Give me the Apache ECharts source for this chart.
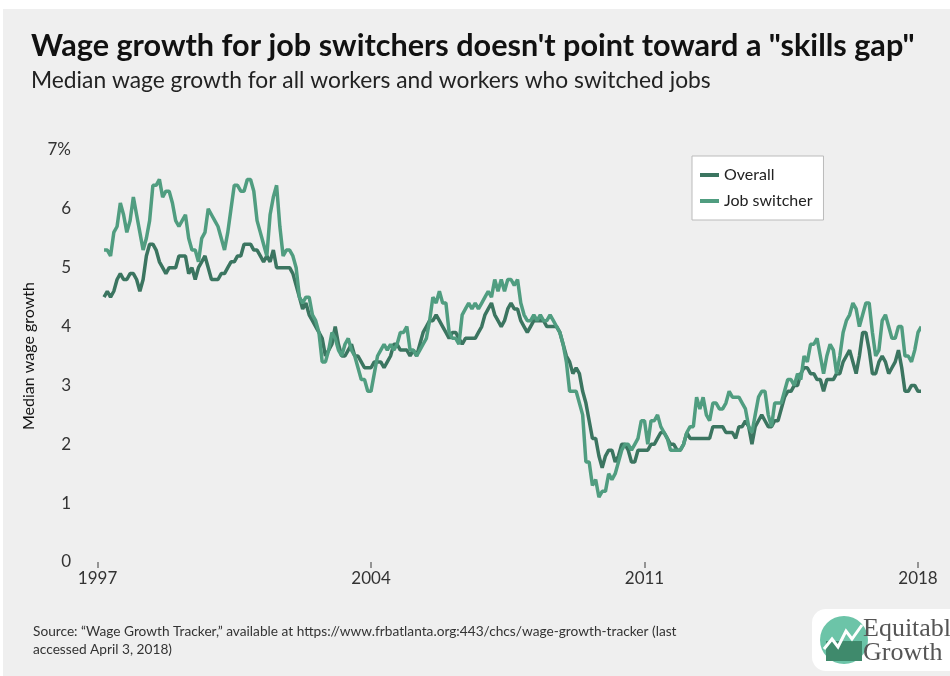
<!DOCTYPE html>
<html>
<head>
<meta charset="utf-8">
<script src="https://cdn.jsdelivr.net/npm/echarts@6/dist/echarts.min.js"></script>
<style>
  html, body { margin: 0; padding: 0; background: #fff; }
  #chart { position: absolute; left: 3px; top: 9px; width: 947px; height: 667px; }
</style>
</head>
<body>
<div id="chart"></div>
<script>
// monthly series, first value is March 1997
const startYear = 1997
const startMonth = 3

const overall = [
  4.5, 4.6, 4.5, 4.6, 4.8, 4.9, 4.8, 4.8, 4.9, 4.9, 4.8, 4.6, 4.8, 5.2, 5.4, 5.4, 5.3, 5.1, 5.0, 4.9,
  5.0, 5.0, 5.0, 5.2, 5.2, 5.2, 4.9, 5.0, 4.8, 5.0, 5.1, 5.2, 5.0, 4.8, 4.8, 4.8, 4.9, 4.9, 5.0, 5.1,
  5.1, 5.2, 5.2, 5.4, 5.4, 5.4, 5.3, 5.3, 5.2, 5.1, 5.2, 5.1, 5.3, 5.0, 5.0, 5.0, 5.0,
  5.0, 4.9, 4.7, 4.5, 4.3, 4.4, 4.2, 4.1, 4.0, 3.9, 3.8, 3.5, 3.6, 3.7, 4.0, 3.7, 3.5, 3.5, 3.6, 3.7,
  3.5, 3.5, 3.4, 3.3, 3.3, 3.3, 3.4, 3.4, 3.4, 3.3, 3.4, 3.5, 3.7, 3.7, 3.6, 3.6, 3.6, 3.5, 3.6, 3.5,
  3.7, 3.9, 4.0, 4.1, 4.1, 4.2, 4.1, 4.0, 3.9, 3.8, 3.9, 3.9, 3.8, 3.7, 3.8, 3.8,
  3.8, 3.8, 3.9, 4.0, 4.2, 4.3, 4.4, 4.2, 4.1, 4.0, 4.1, 4.3, 4.4, 4.3, 4.3, 4.1, 4.0, 3.9, 4.0, 4.1,
  4.1, 4.1, 4.1, 4.0,
  4.0, 4.0, 4.0, 3.9, 3.7, 3.5, 3.4, 3.2, 3.3, 3.2, 2.9, 2.7, 2.4, 2.1, 2.1, 1.8, 1.6, 1.8, 1.9, 1.9,
  1.7, 1.8, 2.0, 2.0, 1.9, 1.7, 1.7, 1.9, 1.9, 1.9, 1.9, 2.0, 2.0, 2.1, 2.2, 2.2, 2.1, 2.0, 2.0, 1.9,
  1.9, 2.0, 2.2, 2.1, 2.1, 2.1, 2.1, 2.1, 2.1, 2.1,
  2.3, 2.3, 2.3, 2.3, 2.2, 2.2, 2.2, 2.1, 2.3, 2.3, 2.4, 2.3, 2.0, 2.3, 2.4, 2.5, 2.4, 2.3, 2.3, 2.4,
  2.4, 2.6, 2.8, 2.9, 2.9, 3.0, 3.0, 3.2, 3.3, 3.3, 3.2, 3.2, 3.1, 3.1, 2.9, 3.1, 3.1, 3.1, 3.2, 3.2,
  3.4, 3.5, 3.6, 3.4, 3.2, 3.5, 3.9, 3.9, 3.6, 3.2, 3.2, 3.4, 3.5, 3.4, 3.2, 3.3, 3.4, 3.6, 3.3, 2.9,
  2.9, 3.0, 3.0, 2.9, 2.9
]

const switcher = [
  5.3, 5.3, 5.2, 5.6, 5.7, 6.1, 5.9, 5.6, 5.8, 6.2, 5.9, 5.6, 5.3, 5.5, 5.8, 6.4, 6.4, 6.5, 6.2, 6.3,
  6.3, 6.1, 5.8, 5.7, 5.8, 5.9, 5.5, 5.3, 5.3, 5.1, 5.5, 5.6, 6.0, 5.9, 5.8, 5.7, 5.5, 5.3, 5.6, 6.0,
  6.4, 6.4, 6.3, 6.3, 6.5, 6.5, 6.3, 5.8, 5.6, 5.4, 5.2, 5.9, 6.2, 6.4, 5.7, 5.2, 5.3,
  5.3, 5.2, 5.0, 4.5, 4.4, 4.5, 4.5, 4.2, 4.1, 3.9,
  3.4, 3.4, 3.6, 3.9, 3.8, 3.6, 3.5, 3.7, 3.8, 3.6, 3.5, 3.3, 3.1, 3.1, 2.9, 2.9, 3.2, 3.5, 3.6, 3.7,
  3.6, 3.7, 3.6, 3.7, 3.9, 3.9, 4.0, 3.6, 3.6, 3.5, 3.6, 3.7, 3.8, 4.1, 4.5, 4.4, 4.6, 4.4, 4.4, 3.9,
  3.8, 3.8, 3.7, 4.2, 4.3, 4.4, 4.3, 4.4, 4.3, 4.4, 4.5, 4.6, 4.5, 4.8, 4.6, 4.8, 4.6, 4.8, 4.8, 4.7,
  4.8, 4.4, 4.2, 4.1, 4.1, 4.2, 4.1, 4.2, 4.1, 4.1, 4.2,
  4.1, 4.0, 3.9, 3.7, 3.4, 2.9, 2.9, 2.9, 2.7, 2.5, 1.7, 1.7, 1.3, 1.4, 1.1, 1.2, 1.2, 1.5, 1.4, 1.5,
  1.7, 1.9, 2.0, 2.0, 1.9, 2.0, 2.1, 2.4, 2.4, 2.0, 2.4, 2.4, 2.5, 2.3, 2.2, 2.1, 1.9, 1.9, 1.9, 1.9,
  2.0, 2.2, 2.3, 2.3, 2.8, 2.6, 2.8, 2.5, 2.4, 2.7,
  2.7, 2.6, 2.6, 2.7, 2.9, 2.8, 2.8, 2.8, 2.7, 2.6, 2.3, 2.2, 2.5, 2.8, 2.9, 2.9, 2.5, 2.3, 2.7, 2.7,
  2.7, 2.9, 3.1, 3.1, 3.0, 3.2, 3.1, 3.5, 3.4, 3.7, 3.7, 3.8, 3.5, 3.2, 3.5, 3.7, 3.6, 3.2, 3.5, 3.9,
  4.1, 4.2, 4.4, 4.3, 4.0, 4.2, 4.4, 4.4, 3.9, 3.5, 3.6, 4.1, 4.2, 4.0, 3.8, 3.8, 4.0, 4.0, 3.5, 3.5,
  3.4, 3.6, 3.9, 4.0
]

const yearTicks = [1997, 2004, 2011, 2018]

const toPoints = values => values.map((v, i) => [startYear + (startMonth - 1 + i) / 12, v])

const chart = echarts.init(document.getElementById('chart'))
const font = 'Lato, "Noto Sans", sans-serif'

const option = {
  backgroundColor: '#efefef',
  animation: false,
  textStyle: { fontFamily: font },
  title: {
    left: 23,
    top: 17,
    text: 'Wage growth for job switchers doesn\'t point toward a "skills gap"',
    subtext: 'Median wage growth for all workers and workers who switched jobs',
    itemGap: 7,
    textStyle: { fontFamily: font, fontSize: 30.6, fontWeight: 'bold', color: '#111' },
    subtextStyle: { fontFamily: font, fontSize: 22.8, color: '#222' }
  },
  legend: {
    orient: 'vertical',
    left: 689,
    top: 147,
    backgroundColor: '#fff',
    borderColor: '#bbb',
    borderWidth: 1,
    padding: [11, 11, 11, 8],
    itemGap: 10,
    itemWidth: 19,
    itemHeight: 4,
    icon: 'rect',
    textStyle: { fontSize: 16, color: '#222' },
    data: ['Overall', 'Job switcher']
  },
  grid: { left: 75, right: 32, top: 141, bottom: 114 },
  xAxis: {
    type: 'value',
    min: 1996.5,
    max: 2018,
    axisLine: { show: false },
    axisTick: { show: true, customValues: yearTicks, length: 6, lineStyle: { color: '#777', width: 1.5 } },
    axisLabel: { customValues: yearTicks, fontSize: 17, color: '#333', margin: 8, formatter: v => String(v) },
    splitLine: { show: false }
  },
  yAxis: {
    type: 'value',
    min: 0,
    max: 7,
    interval: 1,
    name: 'Median wage growth',
    nameLocation: 'middle',
    nameRotate: 90,
    nameGap: 37,
    nameTextStyle: { fontSize: 16, color: '#111' },
    axisLine: { show: false },
    axisTick: { show: false },
    axisLabel: {
      fontSize: 17,
      color: '#333',
      margin: 7,
      formatter: v => (v === 7 ? '7%' : String(v))
    },
    splitLine: {
      lineStyle: {
        color: ['#555', '#b4b4b4', '#b4b4b4', '#b4b4b4', '#b4b4b4', '#b4b4b4', '#b4b4b4', '#b4b4b4'],
        width: [2, 1.5, 1.5, 1.5, 1.5, 1.5, 1.5, 1.5]
      }
    }
  },
  series: [
    {
      name: 'Overall',
      type: 'line',
      data: toPoints(overall),
      showSymbol: false,
      clip: false,
      lineStyle: { width: 3.5, color: '#3b7560' },
      itemStyle: { color: '#3b7560' }
    },
    {
      name: 'Job switcher',
      type: 'line',
      data: toPoints(switcher),
      showSymbol: false,
      clip: false,
      lineStyle: { width: 3.5, color: '#509d80' },
      itemStyle: { color: '#509d80' }
    }
  ],
  graphic: [
    {
      type: 'text',
      left: 30,
      top: 614,
      style: {
        text: 'Source: \u201cWage Growth Tracker,\u201d available at https://www.frbatlanta.org:443/chcs/wage-growth-tracker (last\naccessed April 3, 2018)',
        font: '13.7px ' + font,
        fill: '#333',
        lineHeight: 18
      }
    },
    {
      type: 'group',
      left: 809,
      top: 600,
      children: [
        { type: 'rect', shape: { x: 0, y: 0, width: 160, height: 62, r: 14 }, style: { fill: '#fff' } },
        { type: 'circle', shape: { cx: 32, cy: 31, r: 24 }, style: { fill: '#6cc4a8' } },
        { type: 'rect', shape: { x: 14, y: 32, width: 36, height: 20 }, style: { fill: '#3f8a6c' } },
        { type: 'polyline', shape: { points: [[12, 40], [20, 30], [26, 38], [34, 22], [40, 30], [50, 16]] }, style: { stroke: '#fff', lineWidth: 3, fill: null } },
        { type: 'text', x: 51, y: 7, style: { text: 'Equitable', font: '26px "Liberation Serif", serif', fill: '#555' } },
        { type: 'text', x: 51, y: 31, style: { text: 'Growth', font: '26px "Liberation Serif", serif', fill: '#555' } }
      ]
    }
  ]
}

chart.setOption(option)
</script>
</body>
</html>
